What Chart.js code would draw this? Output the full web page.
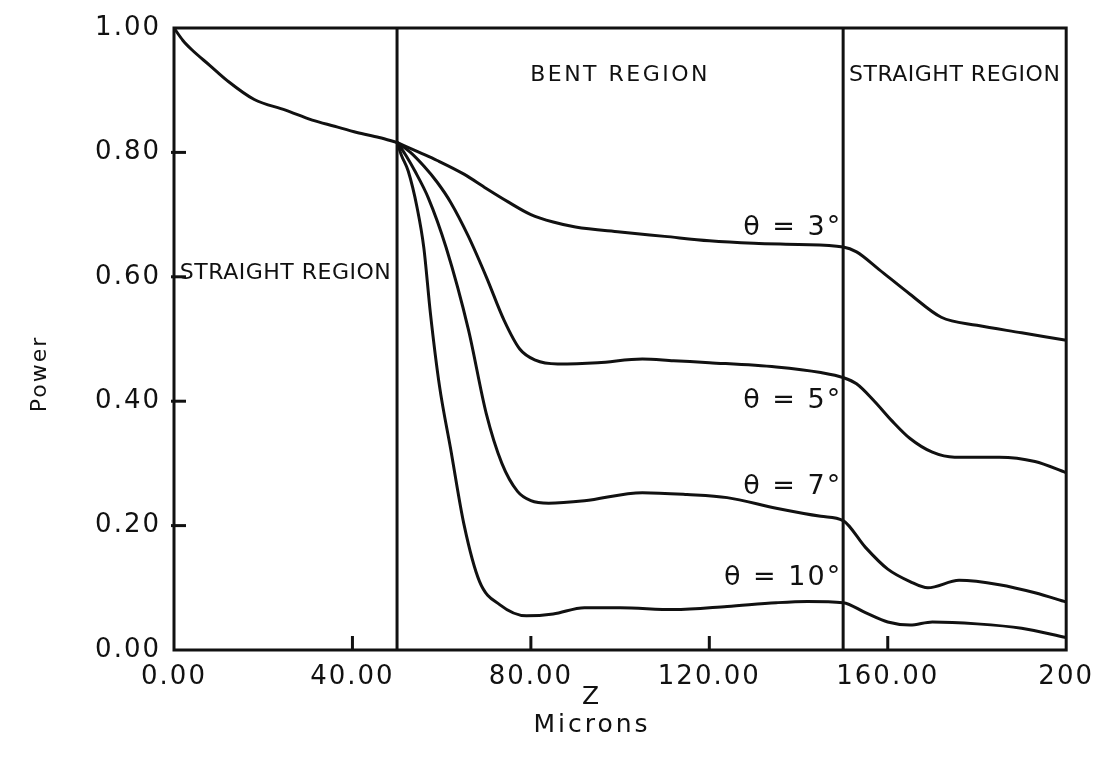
<!DOCTYPE html>
<html lang="en">
<head>
<meta charset="UTF-8">
<title>Power along Z</title>
<script src="https://cdn.jsdelivr.net/npm/chart.js"></script>
<style>
  body { margin: 0; background: #fff; }
  #wrap { width: 1095px; height: 764px; }
</style>
</head>
<body>
<div id="wrap"><canvas id="powerChart" width="1095" height="764"></canvas></div>
<script>
// straight input guide, shared by all curves
const zStraight = [0, 2, 4, 8, 12, 18, 25, 31, 36, 41, 46, 50];
const pStraight = [1.0, 0.98, 0.965, 0.94, 0.915, 0.885, 0.868, 0.852, 0.842, 0.832, 0.824, 0.816];

// bend angle 3 deg
const z3 = [50, 55, 59, 65, 70, 75, 80, 85, 90, 100, 110, 120, 130, 140, 150, 153, 158, 165, 172, 180, 190, 200];
const p3 = [0.816, 0.80, 0.787, 0.765, 0.742, 0.72, 0.70, 0.688, 0.68, 0.672, 0.665, 0.658, 0.654, 0.652, 0.648, 0.64, 0.612, 0.572, 0.535, 0.522, 0.51, 0.498];

// bend angle 5 deg
const z5 = [50, 53, 56, 59, 62, 66, 70, 74, 77.5, 81, 86, 95, 105, 112, 120, 135, 145, 150, 153, 157, 161, 165, 170, 175, 185, 193, 200];
const p5 = [0.816, 0.80, 0.778, 0.752, 0.72, 0.665, 0.60, 0.53, 0.484, 0.466, 0.46, 0.462, 0.468, 0.465, 0.462, 0.455, 0.446, 0.438, 0.428, 0.40, 0.368, 0.34, 0.318, 0.31, 0.31, 0.303, 0.285];

// bend angle 7 deg
const z7 = [50, 52, 54, 57, 61, 66, 70, 73.5, 77, 80, 84, 92, 105, 115, 124, 135, 145, 150, 155, 160, 165, 169, 176, 185, 193, 200];
const p7 = [0.816, 0.795, 0.77, 0.727, 0.647, 0.515, 0.38, 0.30, 0.255, 0.24, 0.236, 0.24, 0.253, 0.25, 0.245, 0.228, 0.215, 0.208, 0.165, 0.13, 0.11, 0.10, 0.112, 0.105, 0.092, 0.077];

// bend angle 10 deg
const z10 = [50, 51, 52.5, 54.5, 56, 57.5, 59.5, 62, 65, 68.5, 73, 79, 85, 92, 100, 112, 124, 135, 142, 150, 155, 160, 165, 170, 180, 190, 200];
const p10 = [0.816, 0.795, 0.77, 0.711, 0.647, 0.54, 0.425, 0.324, 0.202, 0.11, 0.073, 0.055, 0.058, 0.068, 0.068, 0.065, 0.07, 0.076, 0.078, 0.076, 0.06, 0.045, 0.04, 0.045, 0.042, 0.035, 0.02];

const xTickValues = [0, 40, 80, 120, 160, 200];
const yTickValues = [0, 0.2, 0.4, 0.6, 0.8, 1.0];
const regionEdges = [50, 150];

const curveLabels = ['θ = 3°', 'θ = 5°', 'θ = 7°', 'θ = 10°'];
const curveLabelP = [0.678, 0.40, 0.262, 0.115];

const INK = '#111';
const FONT = "'DejaVu Sans', sans-serif";

function toPoints(zs, ps) {
    return zs.map((z, i) => ({ x: z, y: ps[i] }));
}

function curve(zs, ps) {
    return {
        data: toPoints(zs, ps),
        borderColor: INK,
        borderWidth: 3,
        pointRadius: 0,
        fill: false,
        cubicInterpolationMode: 'monotone'
    };
}

function strokeLine(ctx, x1, y1, x2, y2) {
    ctx.beginPath();
    ctx.moveTo(x1, y1);
    ctx.lineTo(x2, y2);
    ctx.stroke();
}

// frame, region walls, inward ticks and the text inside the plot
const overlay = {
    id: 'overlay',
    beforeDraw(chart) {
        chart.ctx.letterSpacing = '2px';
    },
    afterDraw(chart) {
        const { ctx, chartArea: a, scales: { x, y } } = chart;
        ctx.save();
        ctx.strokeStyle = INK;
        ctx.lineWidth = 3;
        ctx.strokeRect(a.left, a.top, a.right - a.left, a.bottom - a.top);

        regionEdges.forEach(z => {
            const px = x.getPixelForValue(z);
            strokeLine(ctx, px, a.top, px, a.bottom);
        });

        xTickValues.slice(1, -1).forEach(v => {
            const px = x.getPixelForValue(v);
            strokeLine(ctx, px, a.bottom, px, a.bottom - 14);
        });
        yTickValues.slice(1, -1).forEach(v => {
            const py = y.getPixelForValue(v);
            strokeLine(ctx, a.left - 3, py, a.left + 12, py);
        });

        ctx.fillStyle = INK;
        ctx.textBaseline = 'middle';
        ctx.textAlign = 'center';
        ctx.font = '22px ' + FONT;
        const left = x.getPixelForValue(0), e1 = x.getPixelForValue(regionEdges[0]);
        const e2 = x.getPixelForValue(regionEdges[1]), right = x.getPixelForValue(200);
        ctx.letterSpacing = '0.5px';
        ctx.fillText('STRAIGHT REGION', (left + e1) / 2, y.getPixelForValue(0.606));
        ctx.fillText('STRAIGHT REGION', (e2 + right) / 2, y.getPixelForValue(0.924));
        ctx.letterSpacing = '2.5px';
        ctx.fillText('BENT REGION', (e1 + e2) / 2, y.getPixelForValue(0.924));

        ctx.textAlign = 'right';
        ctx.font = '27px ' + FONT;
        ctx.letterSpacing = '2px';
        curveLabels.forEach((t, i) => {
            ctx.fillText(t, e2 - 1, y.getPixelForValue(curveLabelP[i]));
        });

        // axis titles
        ctx.textAlign = 'center';
        ctx.font = '25px ' + FONT;
        ctx.letterSpacing = '3px';
        ctx.fillText('Z', 592, 697);
        ctx.fillText('Microns', 592, 725);

        ctx.save();
        ctx.translate(40, 374);
        ctx.rotate(-Math.PI / 2);
        ctx.font = '22px ' + FONT;
        ctx.letterSpacing = '2px';
        ctx.fillText('Power', 0, 0);
        ctx.restore();

        ctx.restore();
    }
};

const tickFont = { family: FONT, size: 26 };

new Chart(document.getElementById('powerChart'), {
    type: 'line',
    data: {
        datasets: [
            curve(zStraight, pStraight),
            curve(z3, p3),
            curve(z5, p5),
            curve(z7, p7),
            curve(z10, p10)
        ]
    },
    options: {
        responsive: false,
        animation: false,
        events: [],
        layout: { padding: { top: 28, right: 21, left: 0, bottom: 0 } },
        plugins: { legend: { display: false }, tooltip: { enabled: false } },
        scales: {
            x: {
                type: 'linear',
                min: 0,
                max: 200,
                grid: { display: false },
                border: { display: false },
                afterBuildTicks: s => { s.ticks = xTickValues.map(v => ({ value: v })); },
                afterFit: s => { s.height = 114; },
                ticks: {
                    color: INK,
                    font: tickFont,
                    padding: 4,
                    maxRotation: 0,
                    callback: v => v === 200 ? '200' : v.toFixed(2)
                }
            },
            y: {
                min: 0,
                max: 1,
                grid: { display: false },
                border: { display: false },
                afterBuildTicks: s => { s.ticks = yTickValues.map(v => ({ value: v })); },
                afterFit: s => { s.width = 174; },
                ticks: {
                    color: INK,
                    font: tickFont,
                    padding: 5,
                    callback: v => v.toFixed(2)
                }
            }
        }
    },
    plugins: [overlay]
});
</script>
</body>
</html>
